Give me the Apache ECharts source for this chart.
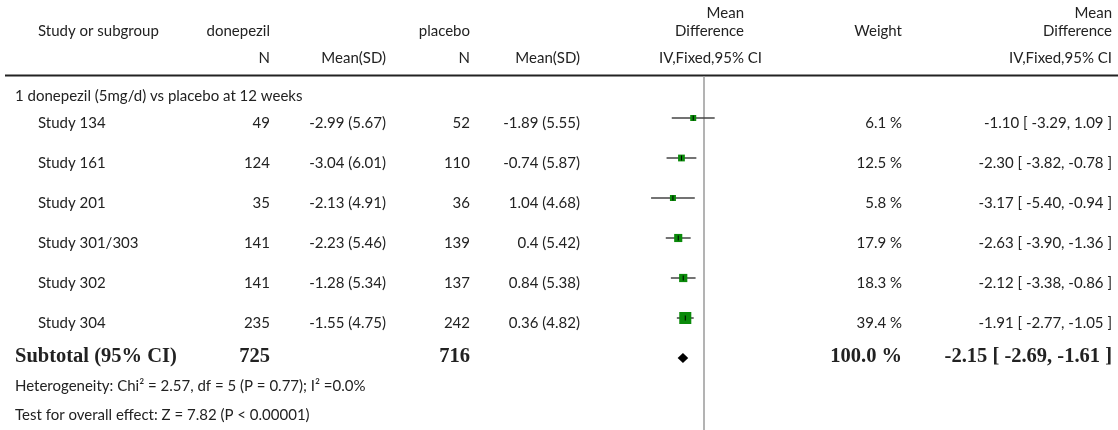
<!DOCTYPE html>
<html>
<head>
<meta charset="utf-8">
<script src="https://cdn.jsdelivr.net/npm/echarts@6/dist/echarts.min.js"></script>
<style>
  html, body { margin: 0; padding: 0; background: #fff; }
  #chart { width: 1118px; height: 430px; }
</style>
</head>
<body>
<div id="chart"></div>
<script>
// Donepezil (5 mg/d) vs placebo at 12 weeks: per-study results
const studies   = ['Study 134', 'Study 161', 'Study 201', 'Study 301/303', 'Study 302', 'Study 304'];
const donN      = [49, 124, 35, 141, 141, 235];
const donMean   = [-2.99, -3.04, -2.13, -2.23, -1.28, -1.55];
const donSD     = [5.67, 6.01, 4.91, 5.46, 5.34, 4.75];
const plaN      = [52, 110, 36, 139, 137, 242];
const plaMean   = [-1.89, -0.74, 1.04, 0.4, 0.84, 0.36];
const plaSD     = [5.55, 5.87, 4.68, 5.42, 5.38, 4.82];
const weights   = [6.1, 12.5, 5.8, 17.9, 18.3, 39.4];
const md        = [-1.10, -2.30, -3.17, -2.63, -2.12, -1.91];
const mdLow     = [-3.29, -3.82, -5.40, -3.90, -3.38, -2.77];
const mdHigh    = [1.09, -0.78, -0.94, -1.36, -0.86, -1.05];

// Pooled (fixed effect) result
const totalDonN = 725;
const totalPlaN = 716;
const totalWeight = 100.0;
const pooledMD = -2.15, pooledLow = -2.69, pooledHigh = -1.61;

const subgroupTitle = '1 donepezil (5mg/d) vs placebo at 12 weeks';
const heterogeneityText = 'Heterogeneity: Chi\u00B2 = 2.57, df = 5 (P = 0.77); I\u00B2 =0.0%';
const overallText = 'Test for overall effect: Z = 7.82 (P < 0.00001)';

const SANS = 'Lato, "Open Sans", sans-serif';
const SERIF = '"Liberation Serif", "DejaVu Serif", serif';
const INK = '#222';
const FS = 15;

// column anchors (right edges unless noted)
const COL = { study: 38, donN: 270, donMean: 386, plaN: 470, plaMean: 580, weight: 902, ci: 1112 };

function fmtCI(m, l, h) {
  return m.toFixed(2) + ' [ ' + l.toFixed(2) + ', ' + h.toFixed(2) + ' ]';
}

function txt(x, y, s, align, opts) {
  opts = opts || {};
  return {
    type: 'text', x: x, y: y, silent: true,
    style: {
      text: s, align: align, verticalAlign: 'middle',
      textAlign: align, textVerticalAlign: 'middle',
      fontFamily: opts.family || SANS, fontSize: opts.size || FS,
      fontWeight: opts.weight || 'normal', fill: INK
    }
  };
}

const rowIdx = studies.map((_, i) => i);

const headerGraphics = [
  txt(COL.study, 31, 'Study or subgroup', 'left'),
  txt(COL.donN, 31, 'donepezil', 'right'),
  txt(COL.plaN, 31, 'placebo', 'right'),
  txt(COL.donN, 58, 'N', 'right'),
  txt(COL.donMean, 58, 'Mean(SD)', 'right'),
  txt(COL.plaN, 58, 'N', 'right'),
  txt(COL.plaMean, 58, 'Mean(SD)', 'right'),
  txt(744, 13, 'Mean', 'right'),
  txt(744, 31, 'Difference', 'right'),
  txt(762, 58, 'IV,Fixed,95% CI', 'right'),
  txt(COL.weight, 31, 'Weight', 'right'),
  txt(COL.ci, 13, 'Mean', 'right'),
  txt(COL.ci, 31, 'Difference', 'right'),
  txt(COL.ci, 58, 'IV,Fixed,95% CI', 'right'),
  {
    type: 'line', silent: true,
    shape: { x1: 5, y1: 75.5, x2: 1118, y2: 75.5 },
    style: { stroke: '#222', lineWidth: 2 }
  }
];

const chart = echarts.init(document.getElementById('chart'), null, { renderer: 'canvas' });

chart.setOption({
  animation: false,
  backgroundColor: '#fff',
  graphic: headerGraphics,
  grid: { left: 606, width: 196, top: 76, height: 354 },
  xAxis: { type: 'value', min: -10, max: 10, show: false },
  yAxis: { type: 'value', min: -1.05, max: 7.8, inverse: true, show: false },
  series: [
    {
      // line of no effect
      type: 'custom', clip: false, silent: true, z: 1,
      data: [[0]],
      renderItem: function (params, api) {
        const top = api.coord([0, -1.05]);
        const bot = api.coord([0, 7.8]);
        return {
          type: 'line',
          shape: { x1: top[0], y1: top[1], x2: bot[0], y2: bot[1] },
          style: { stroke: '#a0a0a0', lineWidth: 1.6 }
        };
      }
    },
    {
      // study rows: table cells
      type: 'custom', clip: false, silent: true, z: 3,
      data: rowIdx.map(i => [md[i], i]),
      renderItem: function (params, api) {
        const i = params.dataIndex;
        const y = api.coord([0, i])[1] + 5;
        return {
          type: 'group',
          children: [
            txt(COL.study, y, studies[i], 'left'),
            txt(COL.donN, y, String(donN[i]), 'right'),
            txt(COL.donMean, y, donMean[i] + ' (' + donSD[i] + ')', 'right'),
            txt(COL.plaN, y, String(plaN[i]), 'right'),
            txt(COL.plaMean, y, plaMean[i] + ' (' + plaSD[i] + ')', 'right'),
            txt(COL.weight, y, weights[i].toFixed(1) + ' %', 'right'),
            txt(COL.ci, y, fmtCI(md[i], mdLow[i], mdHigh[i]), 'right')
          ]
        };
      }
    },
    {
      // study rows: CI whiskers and weighted squares
      type: 'custom', clip: false, silent: true, z: 4,
      data: rowIdx.map(i => [md[i], i, mdLow[i], mdHigh[i], weights[i]]),
      renderItem: function (params, api) {
        const i = api.value(1);
        const c = api.coord([api.value(0), i]);
        const l = api.coord([api.value(2), i]);
        const h = api.coord([api.value(3), i]);
        const s = Math.max(6, 1.92 * Math.sqrt(api.value(4)));
        return {
          type: 'group',
          children: [
            { type: 'line', shape: { x1: l[0], y1: c[1], x2: h[0], y2: c[1] },
              style: { stroke: '#444', lineWidth: 1.5 } },
            { type: 'rect', shape: { x: c[0] - s / 2, y: c[1] - s / 2, width: s, height: s },
              style: { fill: '#0a8a0a' } },
            { type: 'line', shape: { x1: c[0], y1: c[1] - 2.5, x2: c[0], y2: c[1] + 2.5 },
              style: { stroke: '#000', lineWidth: 1 } }
          ]
        };
      }
    },
    {
      // subtotal row, pooled diamond and footnotes
      type: 'custom', clip: false, silent: true, z: 4,
      data: [[pooledMD, studies.length, pooledLow, pooledHigh]],
      renderItem: function (params, api) {
        const r = api.value(1);
        const c = api.coord([api.value(0), r]);
        const l = api.coord([api.value(2), r]);
        const h = api.coord([api.value(3), r]);
        const half = 5;
        const y = c[1] - 1;
        const bold = { family: SERIF, size: 20.5, weight: 'bold' };
        return {
          type: 'group',
          children: [
            { type: 'polygon',
              shape: { points: [[l[0], c[1]], [c[0], c[1] - half], [h[0], c[1]], [c[0], c[1] + half]] },
              style: { fill: '#000' } },
            txt(15, y, 'Subtotal (95% CI)', 'left', bold),
            txt(COL.donN, y, String(totalDonN), 'right', bold),
            txt(COL.plaN, y, String(totalPlaN), 'right', bold),
            txt(COL.weight, y, totalWeight.toFixed(1) + ' %', 'right', bold),
            txt(COL.ci, y, fmtCI(pooledMD, pooledLow, pooledHigh), 'right', bold),
            txt(15, api.coord([0, r + 0.7])[1], heterogeneityText, 'left'),
            txt(15, api.coord([0, r + 1.43])[1], overallText, 'left'),
            txt(15, api.coord([0, -0.55])[1], subgroupTitle, 'left')
          ]
        };
      }
    }
  ]
});
</script>
</body>
</html>
